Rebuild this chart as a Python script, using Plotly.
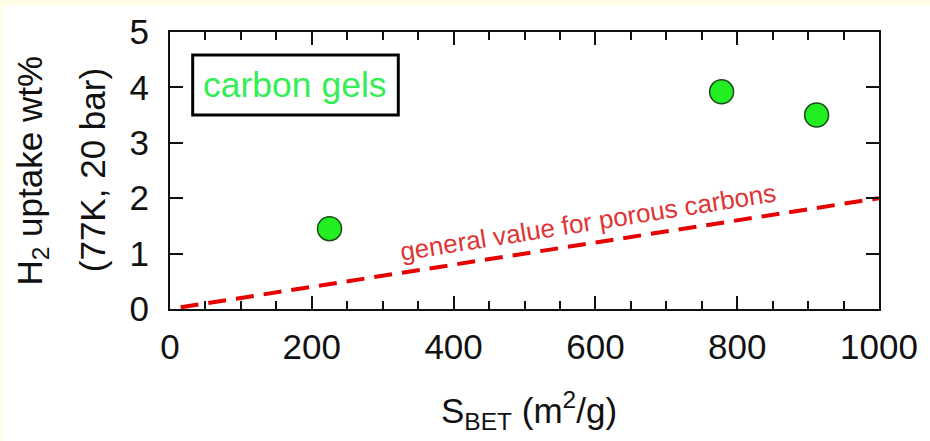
import plotly.graph_objects as go

# Data
gel_sbet = [225, 778, 912]
gel_h2 = [1.45, 3.92, 3.50]
ref_sbet = [15, 1000]
ref_h2 = [0.03, 2.0]
x_ticks = [0, 200, 400, 600, 800, 1000]
y_ticks = [0, 1, 2, 3, 4, 5]

FONT = "Liberation Sans, Arial, sans-serif"

fig = go.Figure()
fig.add_trace(go.Scatter(
    x=ref_sbet, y=ref_h2, mode="lines",
    line=dict(color="#E60000", width=4, dash="18px,10px"),
    showlegend=False, hoverinfo="skip"))
fig.add_trace(go.Scatter(
    x=gel_sbet, y=gel_h2, mode="markers",
    marker=dict(size=24, color="#22EE22", line=dict(color="#1B4A1B", width=1.5)),
    showlegend=False))

axis_common = dict(
    showgrid=False, zeroline=False, showline=True, linecolor="#111111", linewidth=2,
    mirror="ticks", ticks="inside", ticklen=13, tickwidth=2, tickcolor="#111111",
    tickfont=dict(family=FONT, size=35, color="#111111"),
)
fig.update_xaxes(range=[0, 1000], tickvals=x_ticks, ticktext=[str(v) for v in x_ticks],
                 minor=dict(dtick=50, ticks="inside", ticklen=8, tickwidth=2, tickcolor="#111111"),
                 ticklabelstandoff=6, **axis_common)
fig.update_yaxes(range=[0, 5], tickvals=y_ticks, ticktext=[str(v) for v in y_ticks],
                 ticklabelstandoff=12, **axis_common)

fig.update_layout(
    width=930, height=441,
    margin=dict(l=170, r=43, t=32, b=132),
    paper_bgcolor="white", plot_bgcolor="white",
    shapes=[
        dict(type="rect", xref="paper", yref="paper", x0=-0.26, x1=1.1, y0=1.0975, y1=1.2,
             fillcolor="#FFFDE4", line=dict(width=0), layer="below"),
        dict(type="rect", xref="paper", yref="paper", x0=-0.26, x1=-0.2353, y0=-0.6, y1=1.2,
             fillcolor="#FFFDE4", line=dict(width=0), layer="below"),
        dict(type="rect", xref="paper", yref="paper", x0=0.032, x1=0.322, y0=0.700, y1=0.917,
             fillcolor="white", line=dict(color="#000000", width=3), layer="above"),
    ],
    annotations=[
        dict(text="carbon gels", xref="paper", yref="paper", x=0.177, y=0.809,
             xanchor="center", yanchor="middle", showarrow=False,
             font=dict(family=FONT, size=35.5, color="#33EE55")),
        dict(text="general value for porous carbons", xref="x", yref="y", x=590, y=1.57,
             xanchor="center", yanchor="middle", showarrow=False, textangle=-9,
             font=dict(family=FONT, size=26, color="#E03535")),
        dict(text="S<sub>BET</sub> (m<sup>2</sup>/g)", xref="paper", yref="paper", x=0.507, y=-0.365,
             xanchor="center", yanchor="middle", showarrow=False,
             font=dict(family=FONT, size=35, color="#111111")),
        dict(text="H<sub>2</sub> uptake wt%", xref="paper", yref="paper", x=-0.196, y=0.5,
             xanchor="center", yanchor="middle", showarrow=False, textangle=-90,
             font=dict(family=FONT, size=35, color="#111111")),
        dict(text="(77K, 20 bar)", xref="paper", yref="paper", x=-0.109, y=0.5,
             xanchor="center", yanchor="middle", showarrow=False, textangle=-90,
             font=dict(family=FONT, size=35, color="#111111")),
    ],
)

fig.write_html("out.html", config={"displayModeBar": False},
               post_script="document.body.style.margin='0';")
